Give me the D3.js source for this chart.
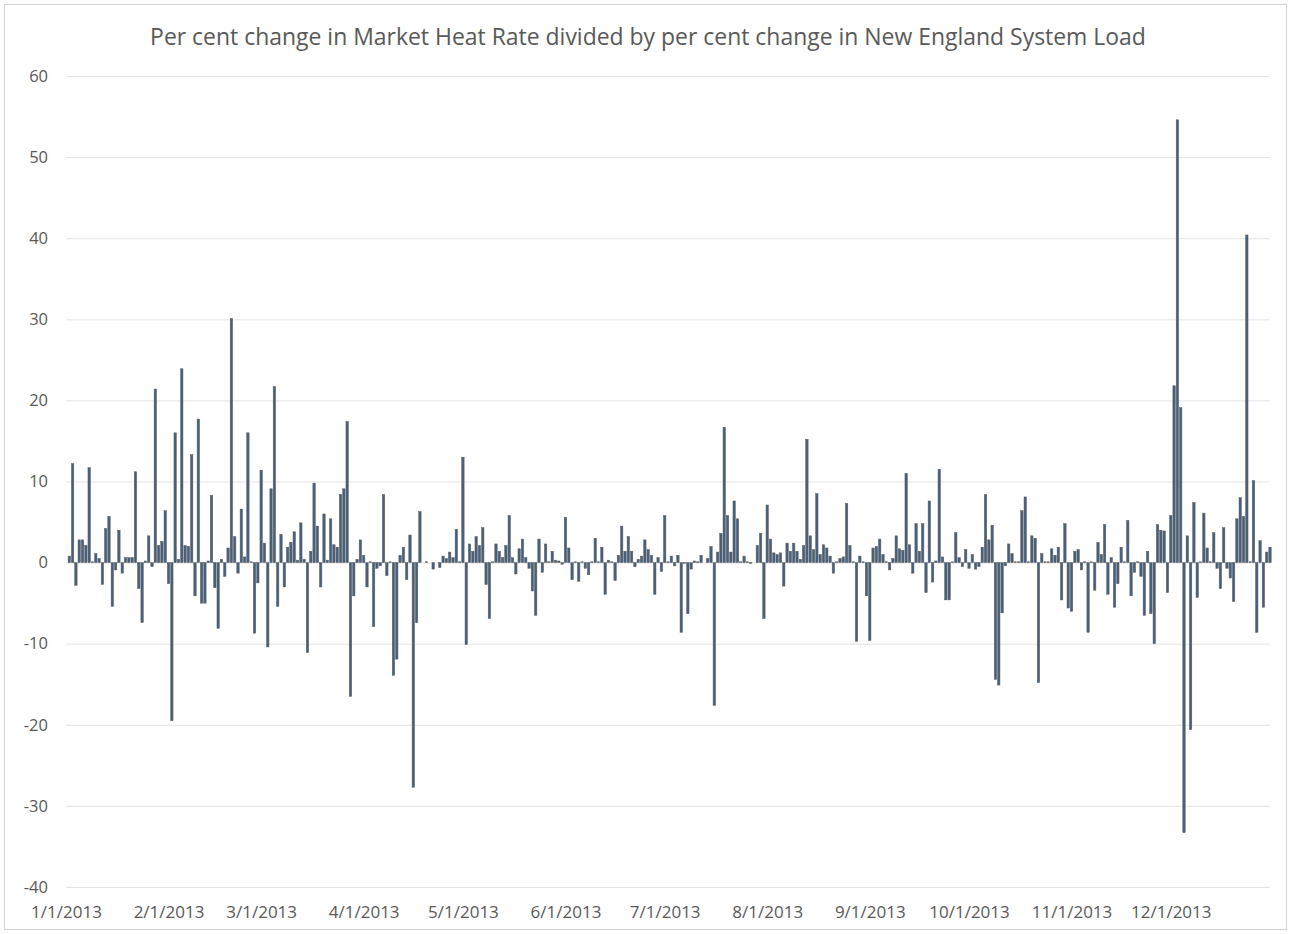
<!DOCTYPE html>
<html>
<head>
<meta charset="utf-8">
<script src="https://cdn.jsdelivr.net/npm/d3@7"></script>
<style>
  body { margin: 0; background: #fff; }
  svg text { font-family: "Open Sans", "Liberation Sans", sans-serif; fill: #595959; }
</style>
</head>
<body>
<svg id="chart" width="1291" height="934"></svg>
<script>
// daily values, one array per month (null = no bar)
const jan = [null, 0.8, 12.2, -2.8, 2.8, 2.8, 2.1, 11.7, 0.1, 1.1, 0.5, -2.7, 4.2, 5.7, -5.4, -0.9, 4.0, -1.3, 0.6, 0.6, 0.6, 11.2, -3.2, -7.4, 0.2, 3.3, -0.5, 21.4, 2.1, 2.6, 6.4];
const feb = [-2.6, -19.5, 16.0, 0.4, 23.9, 2.1, 2.0, 13.3, -4.1, 17.7, -5.0, -5.0, 0.2, 8.3, -3.1, -8.1, 0.4, -1.7, 1.8, 30.1, 3.2, -1.3, 6.6, 0.7, 16.0, 0.1, -8.7, -2.5];
const mar = [11.4, 2.4, -10.4, 9.1, 21.7, -5.4, 3.5, -3.0, 1.9, 2.5, 3.8, 0.3, 4.9, 0.4, -11.1, 1.4, 9.8, 4.5, -3.0, 6.0, 0.3, 5.4, 2.2, 1.9, 8.4, 9.1, 17.4, -16.5, -4.1, 0.4, 2.8];
const apr = [0.9, -3.0, 0.1, -7.9, -0.7, -0.4, 8.4, -1.6, 0.1, -13.9, -11.9, 0.9, 1.9, -2.1, 3.4, -27.7, -7.4, 6.3, 0.0, 0.1, 0.0, -0.8, 0.0, -0.6, 0.8, 0.5, 1.3, 0.6, 4.1, 0.1];
const may = [13.0, -10.1, 2.3, 1.4, 3.2, 2.1, 4.3, -2.7, -6.9, 0.1, 2.3, 1.4, 0.6, 2.1, 5.8, 0.6, -1.4, 1.7, 2.9, 0.6, -0.7, -3.5, -6.5, 2.9, -1.2, 2.3, 0.1, 1.4, 0.3, 0.2, -0.2];
const jun = [5.6, 1.8, -2.1, 0.1, -2.3, 0.1, -0.7, -1.5, 0.1, 3.0, 0.1, 1.9, -3.9, 0.3, 0.1, -2.2, 0.9, 4.5, 1.4, 3.2, 1.4, -0.5, 0.4, 0.8, 2.8, 1.6, 0.9, -3.9, 0.6, -1.1];
const jul = [5.8, 0.1, 0.8, -0.4, 0.9, -8.6, -0.1, -6.3, -0.8, 0.2, 0.1, 0.9, 0.0, 0.5, 2.0, -17.6, 1.3, 3.6, 16.7, 5.8, 1.3, 7.6, 5.4, 0.1, 0.8, 0.1, -0.1, 0.0, 2.1, 3.6, -6.9];
const aug = [7.1, 2.9, 1.2, 1.0, 1.2, -2.9, 2.4, 1.4, 2.4, 1.4, 0.4, 2.1, 15.2, 3.3, 1.6, 8.5, 1.0, 2.2, 1.8, 0.8, -1.3, 0.1, 0.5, 0.7, 7.3, 2.1, 0.1, -9.7, 0.8, 0.1, -4.1];
const sep = [-9.6, 1.8, 2.0, 2.9, 1.0, 0.1, -0.9, 0.5, 3.3, 1.7, 1.5, 11.0, 2.2, -1.3, 4.8, 1.4, 4.8, -3.7, 7.6, -2.4, 0.2, 11.5, 0.7, -4.6, -4.6, 0.1, 3.7, 0.6, -0.5, 1.6];
const oct = [-0.7, 1.0, -0.8, -0.5, 1.9, 8.4, 2.8, 4.6, -14.4, -15.1, -6.2, -0.4, 2.3, 1.1, 0.1, 0.1, 6.4, 8.1, 0.1, 3.3, 3.0, -14.8, 1.1, 0.1, 0.1, 1.7, 0.9, 1.9, -4.6, 4.8, -5.6];
const nov = [-6.0, 1.4, 1.6, -0.9, 0.1, -8.6, 0.1, -3.4, 2.5, 1.0, 4.7, -3.9, 0.6, -5.5, -2.6, 1.9, 0.1, 5.2, -4.1, -1.2, 0.1, -1.7, -6.5, 1.4, -6.3, -10.0, 4.7, 4.0, 3.9, -3.7];
const dec = [5.8, 21.8, 54.6, 19.1, -33.3, 3.3, -20.6, 7.4, -4.3, 0.1, 6.1, 1.8, 0.1, 3.7, -0.7, -3.2, 4.3, -0.7, -1.9, -4.8, 5.4, 8.0, 5.7, 40.4, 0.1, 10.1, -8.6, 2.7, -5.5, 1.3, 1.9];

const months = [jan, feb, mar, apr, may, jun, jul, aug, sep, oct, nov, dec];
const yTicks = [-40, -30, -20, -10, 0, 10, 20, 30, 40, 50, 60];
const xTickLabels = ["1/1/2013", "2/1/2013", "3/1/2013", "4/1/2013", "5/1/2013", "6/1/2013",
                     "7/1/2013", "8/1/2013", "9/1/2013", "10/1/2013", "11/1/2013", "12/1/2013"];
const title = "Per cent change in Market Heat Rate divided by per cent change in New England System Load";

const data = [];
months.forEach((arr, m) => {
    arr.forEach((v, i) => {
        if (v !== null) data.push({ date: new Date(2013, m, i + 1), value: v });
    });
});

const width = 1291, height = 934;
const plot = { left: 66, right: 1270, top: 76, bottom: 887 };

const svg = d3.select("#chart");

// outer frame
svg.append("rect")
    .attr("x", 4.5).attr("y", 4.5)
    .attr("width", width - 9).attr("height", height - 9)
    .attr("fill", "#fff")
    .attr("stroke", "#d4d4d4");

const x = d3.scaleTime()
    .domain([new Date(2013, 0, 1), new Date(2013, 11, 31)])
    .range([plot.left, plot.right]);

const y = d3.scaleLinear()
    .domain([-40, 60])
    .range([plot.bottom, plot.top]);

// gridlines
svg.append("g")
    .selectAll("line")
    .data(yTicks)
    .enter().append("line")
    .attr("x1", plot.left).attr("x2", plot.right)
    .attr("y1", d => y(d) + 0.5).attr("y2", d => y(d) + 0.5)
    .attr("stroke", "#e4e4e4")
    .attr("stroke-width", 1);

// y axis labels (plain hyphen for negatives, like the original)
const yAxis = svg.append("g")
    .attr("transform", `translate(${plot.left - 18},0)`)
    .call(d3.axisLeft(y).tickValues(yTicks).tickSize(0).tickPadding(0)
        .tickFormat(d => String(d)));
yAxis.select(".domain").remove();
yAxis.selectAll("text")
    .attr("font-size", 16.5)
    .attr("fill", "#595959")
    .style("font-family", "'Open Sans', sans-serif");

// x axis labels
const monthStarts = d3.range(12).map(m => new Date(2013, m, 1));
const xAxis = svg.append("g")
    .attr("transform", `translate(0,${plot.bottom + 19})`)
    .call(d3.axisBottom(x).tickValues(monthStarts).tickSize(0).tickPadding(0)
        .tickFormat((d, i) => xTickLabels[i]));
xAxis.select(".domain").remove();
xAxis.selectAll("text")
    .attr("font-size", 17)
    .attr("fill", "#595959")
    .style("font-family", "'Open Sans', sans-serif");

// bars
const dayPx = x(new Date(2013, 0, 2)) - x(new Date(2013, 0, 1));
const barW = dayPx * 0.72;

svg.append("g")
    .selectAll(".bar")
    .data(data)
    .enter().append("rect")
    .attr("class", "bar")
    .attr("x", d => x(d.date) - barW / 2)
    .attr("width", barW)
    .attr("y", d => y(Math.max(0, d.value)))
    .attr("height", d => Math.abs(y(d.value) - y(0)))
    .attr("fill", "#46617f")
    .attr("stroke", "#5a5a5a")
    .attr("stroke-width", 0.5);

// title, sized to fit the original width
const t = svg.append("text")
    .attr("x", 648).attr("y", 45)
    .attr("text-anchor", "middle")
    .attr("font-size", 20)
    .attr("fill", "#3a3a3a")
    .text(title);
const w = t.node().getComputedTextLength();
t.attr("font-size", 20 * 996 / w);
</script>
</body>
</html>
